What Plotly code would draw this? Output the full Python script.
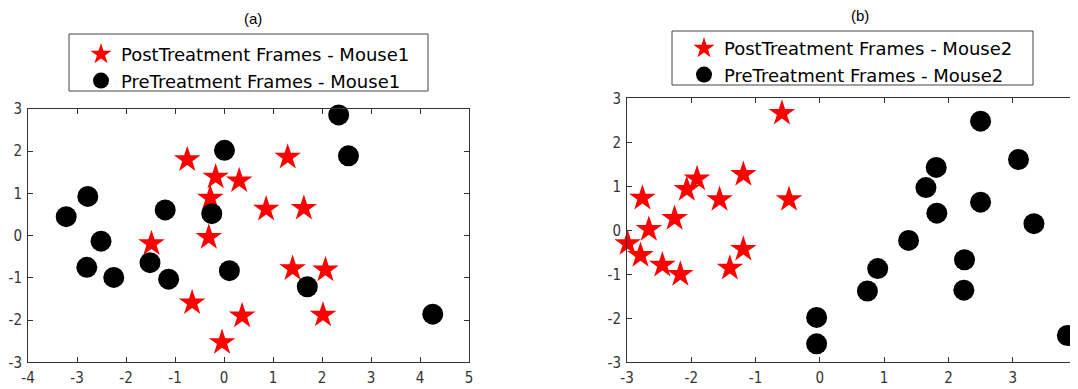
import plotly.graph_objects as go

# Panel (a) - Mouse1
a_post_x = [-0.75, -0.17, 0.31, -0.28, 1.30, 0.86, 1.63, -1.48, -0.31, 1.40, 2.07, -0.65, 0.37, 2.02, -0.04]
a_post_y = [1.80, 1.39, 1.30, 0.89, 1.86, 0.63, 0.65, -0.19, -0.04, -0.78, -0.81, -1.59, -1.90, -1.88, -2.53]
a_pre_x = [-3.22, -2.78, -2.51, -2.80, -2.25, -1.51, -1.13, -1.20, 0.01, -0.25, 0.11, 1.70, 2.34, 2.54, 4.26]
a_pre_y = [0.45, 0.93, -0.13, -0.75, -0.99, -0.64, -1.03, 0.61, 2.02, 0.52, -0.83, -1.21, 2.86, 1.89, -1.86]

# Panel (b) - Mouse2
b_post_x = [-0.59, -1.19, -1.91, -2.07, -2.76, -1.56, -0.48, -2.26, -2.66, -2.99, -2.79, -2.45, -2.17, -1.19, -1.40]
b_post_y = [2.66, 1.27, 1.17, 0.93, 0.73, 0.70, 0.70, 0.27, 0.02, -0.30, -0.57, -0.79, -1.00, -0.43, -0.86]
b_pre_x = [2.50, 3.09, 1.81, 1.65, 2.50, 1.82, 3.33, 1.38, 2.25, 0.90, 0.74, 2.24, -0.05, -0.05, 3.85]
b_pre_y = [2.48, 1.61, 1.43, 0.97, 0.64, 0.39, 0.15, -0.23, -0.67, -0.87, -1.38, -1.36, -1.98, -2.58, -2.39]

a_xticks = [-4, -3, -2, -1, 0, 1, 2, 3, 4, 5]
b_xticks = [-3, -2, -1, 0, 1, 2, 3, 4]
yticks = [-3, -2, -1, 0, 1, 2, 3]

W, H = 1078, 389
OFF = 8  # page body margin

def px(x):
    return (x - OFF) / W

def py(y):
    return 1 - (y - OFF) / H

STAR = dict(symbol="star", color="#ff0000", size=20, line=dict(width=0))
DOT = dict(symbol="circle", color="#000000", size=21, line=dict(width=0))

def lab(v):
    return [str(t) for t in v]

fig = go.Figure()
fig.add_trace(go.Scatter(x=a_post_x, y=a_post_y, mode="markers", marker=STAR,
                         name="PostTreatment Frames - Mouse1", xaxis="x", yaxis="y",
                         legend="legend", cliponaxis=False))
fig.add_trace(go.Scatter(x=a_pre_x, y=a_pre_y, mode="markers", marker=DOT,
                         name="PreTreatment Frames - Mouse1", xaxis="x", yaxis="y",
                         legend="legend", cliponaxis=False))
fig.add_trace(go.Scatter(x=b_post_x, y=b_post_y, mode="markers", marker=STAR,
                         name="PostTreatment Frames - Mouse2", xaxis="x2", yaxis="y2",
                         legend="legend2", cliponaxis=False))
fig.add_trace(go.Scatter(x=b_pre_x, y=b_pre_y, mode="markers", marker=DOT,
                         name="PreTreatment Frames - Mouse2", xaxis="x2", yaxis="y2",
                         legend="legend2", cliponaxis=False))

tickfont = dict(family="Liberation Sans Narrow, DejaVu Sans Condensed, Roboto Condensed, sans-serif",
                size=15, color="#333333")
axcommon = dict(showline=True, linecolor="#333333", linewidth=1, mirror="ticks", ticks="inside",
                ticklen=5, tickcolor="#333333", showgrid=False, zeroline=False, tickfont=tickfont,
                automargin=False, ticklabelstandoff=2)

legfont = dict(family="DejaVu Sans, sans-serif", size=18, color="black")
legcommon = dict(bgcolor="rgba(0,0,0,0)", borderwidth=0, font=legfont,
                 xanchor="left", yanchor="top", itemsizing="trace", tracegroupgap=0)

def box(x0, y0, x1, y1):
    return dict(type="rect", xref="paper", yref="paper", x0=px(x0), x1=px(x1),
                y0=py(y1), y1=py(y0), line=dict(color="#444444", width=1),
                fillcolor="white", layer="below")

titlefont = dict(family="Liberation Sans, Arial, sans-serif", size=15, color="black")

fig.update_layout(
    width=W, height=H,
    margin=dict(l=0, r=0, t=0, b=0, autoexpand=False),
    paper_bgcolor="white", plot_bgcolor="white",
    xaxis=dict(domain=[px(28), px(469)], range=[-4, 5], tickvals=a_xticks, ticktext=lab(a_xticks),
               anchor="y", **axcommon),
    yaxis=dict(domain=[py(362.3), py(109)], range=[-3, 3], tickvals=yticks, ticktext=lab(yticks),
               anchor="x", **axcommon),
    xaxis2=dict(domain=[px(627), px(1077)], range=[-3, 4], tickvals=b_xticks, ticktext=lab(b_xticks),
                anchor="y2", **axcommon),
    yaxis2=dict(domain=[py(362.3), py(98.3)], range=[-3, 3], tickvals=yticks, ticktext=lab(yticks),
                anchor="x2", **axcommon),
    legend=dict(x=px(81), y=py(36), **legcommon),
    legend2=dict(x=px(684), y=py(30), **legcommon),
    shapes=[box(69, 34, 428, 91), box(672, 31, 1033, 85)],
    annotations=[
        dict(text="(a)", x=px(253), y=py(18), xref="paper", yref="paper", showarrow=False,
             xanchor="center", yanchor="middle", font=titlefont),
        dict(text="(b)", x=px(860), y=py(16), xref="paper", yref="paper", showarrow=False,
             xanchor="center", yanchor="middle", font=titlefont),
    ],
)

fig.write_html("out.html")
